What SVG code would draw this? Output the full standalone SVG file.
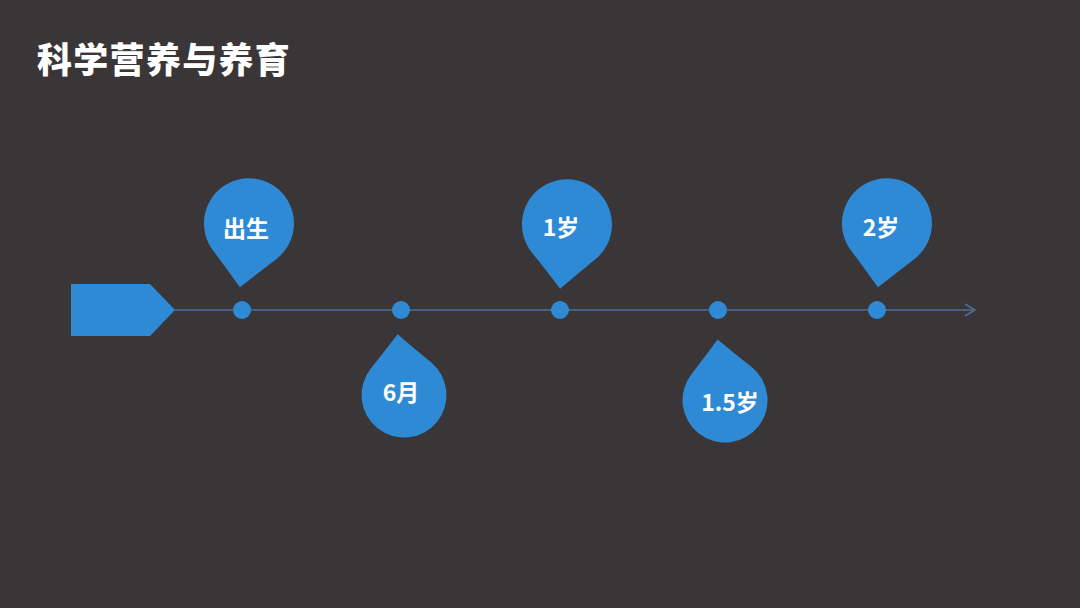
<svg xmlns="http://www.w3.org/2000/svg" width="1080" height="608" viewBox="0 0 1080 608">
<defs>
<style>
.drop{fill:#2f8ad6;}
.dot{fill:#2f8ad6;}
.lbl{font-family:"Microsoft YaHei","Noto Sans CJK SC",sans-serif;font-weight:bold;font-size:23px;fill:#ffffff;text-anchor:middle;}
.title{font-family:"Noto Sans CJK SC",sans-serif;font-weight:900;font-size:35px;letter-spacing:1.3px;fill:#ffffff;}
.axis{stroke:#4d6f96;stroke-width:1.5;fill:none;}
</style>
<path id="tdDown" d="M0,65 Q-18,46 -32,32 A45,45 0 1 1 32,32 Q18,46 0,65 Z"/>
<path id="tdUp" d="M0,-61 Q-16,-44 -30,-30 A42.5,42.5 0 1 0 30,-30 Q16,-44 0,-61 Z"/>
</defs>
<rect width="1080" height="608" fill="#3a3637"/>
<text class="title" x="37" y="73">科学营养与养育</text>
<g id="connectors">
<line class="axis" x1="175" y1="310" x2="975" y2="310"/>
<polyline class="axis" points="965,304 975,310 965,316"/>
</g>
<g id="start">
<polygon points="71,284 150,284 175,310 150,336 71,336" fill="#2f8ad6"/>
</g>
<g id="dots">
<circle class="dot" cx="242" cy="310" r="9"/>
<circle class="dot" cx="401" cy="310" r="9"/>
<circle class="dot" cx="560" cy="310" r="9"/>
<circle class="dot" cx="718" cy="310" r="9"/>
<circle class="dot" cx="877" cy="310" r="9"/>
</g>
<g id="node-birth">
<use href="#tdDown" class="drop" transform="translate(249,223) rotate(8)"/>
<text class="lbl" x="246" y="237">出生</text>
</g>
<g id="node-6m">
<use href="#tdUp" class="drop" transform="translate(404,395) rotate(-6)"/>
<text class="lbl" x="401" y="401">6月</text>
</g>
<g id="node-1y">
<use href="#tdDown" class="drop" transform="translate(567,224) rotate(6)"/>
<text class="lbl" x="561" y="236">1岁</text>
</g>
<g id="node-15y">
<use href="#tdUp" class="drop" transform="translate(725,400) rotate(-7)"/>
<text class="lbl" x="730" y="411">1.5岁</text>
</g>
<g id="node-2y">
<use href="#tdDown" class="drop" transform="translate(887,223) rotate(8)"/>
<text class="lbl" x="881" y="236">2岁</text>
</g>
</svg>
